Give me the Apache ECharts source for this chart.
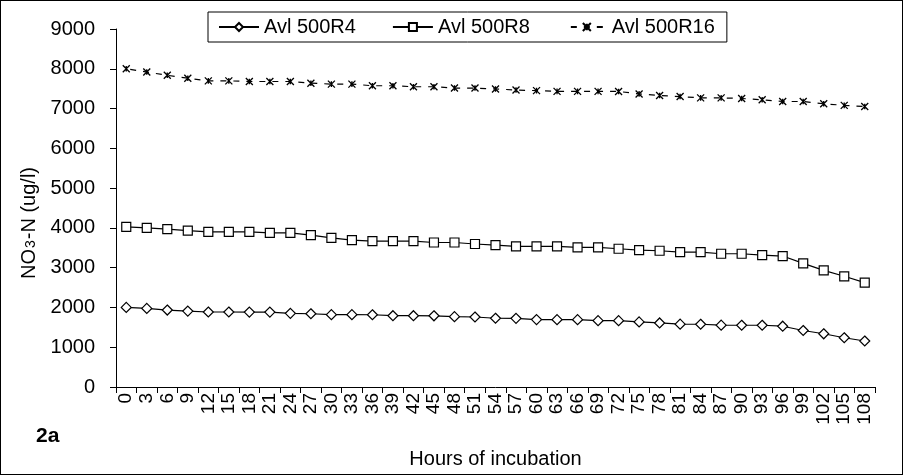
<!DOCTYPE html>
<html>
<head>
<meta charset="utf-8">
<script src="https://cdn.jsdelivr.net/npm/echarts@6/dist/echarts.min.js"></script>
<style>
html,body{margin:0;padding:0;background:#fff;}
#c{width:903px;height:475px;box-sizing:border-box;border:1px solid #000;}
</style>
</head>
<body>
<div id="c"></div>
<script>
const hours = ['0','3','6','9','12','15','18','21','24','27','30','33','36','39','42','45','48','51','54','57','60','63','66','69','72','75','78','81','84','87','90','93','96','99','102','105','108'];
const r4 = [2000,1975,1935,1908,1885,1885,1883,1883,1852,1842,1818,1818,1816,1792,1792,1790,1768,1760,1728,1727,1694,1692,1692,1668,1667,1636,1610,1580,1578,1554,1553,1553,1528,1420,1338,1238,1156];
const r8 = [4025,4000,3967,3933,3900,3900,3900,3875,3875,3817,3750,3692,3667,3667,3667,3633,3633,3595,3567,3535,3533,3533,3508,3508,3475,3442,3425,3392,3392,3350,3350,3317,3292,3108,2933,2783,2625];
const r16 = [8000,7918,7836,7762,7696,7696,7680,7680,7680,7638,7615,7615,7573,7573,7548,7548,7516,7516,7491,7467,7450,7432,7432,7432,7430,7368,7327,7302,7269,7269,7253,7220,7178,7178,7121,7080,7050];
const yTicks = [0,1000,2000,3000,4000,5000,6000,7000,8000,9000];
const seriesNames = ['Avl 500R4','Avl 500R8','Avl 500R16'];

const font = 'Liberation Sans, Arial, sans-serif';
const xSym = 'path://M0,0L10,10M10,0L0,10M5,1L5,9';
const chart = echarts.init(document.getElementById('c'));
chart.setOption({
  animation:false,
  backgroundColor:'#fff',
  textStyle:{fontFamily:font,color:'#000'},
  legend:{
    left:207, top:11,
    padding:[5,12,5,10],
    borderColor:'#000', borderWidth:1,
    itemGap:36, itemWidth:40, itemHeight:10,
    textStyle:{fontSize:20,color:'#000',fontFamily:font,lineHeight:20},
    data:seriesNames
  },
  grid:{left:115,right:27,top:28,bottom:86,containLabel:false},
  xAxis:{
    type:'category', data:hours, boundaryGap:true,
    name:'Hours of incubation', nameLocation:'middle', nameGap:62,
    nameTextStyle:{fontSize:20,color:'#000',fontFamily:font},
    axisLine:{lineStyle:{color:'#000',width:1}},
    axisTick:{show:true,length:6,lineStyle:{color:'#000'}},
    axisLabel:{rotate:90,fontSize:19,color:'#000',fontFamily:font,margin:6,interval:0},
    splitLine:{show:false}
  },
  yAxis:{
    type:'value', min:yTicks[0], max:yTicks[yTicks.length-1], interval:1000,
    axisLine:{show:true,lineStyle:{color:'#000',width:1}},
    axisTick:{show:true,length:6,lineStyle:{color:'#000'}},
    axisLabel:{fontSize:20,color:'#000',fontFamily:font,margin:21,formatter:function(v){return String(v);}},
    splitLine:{show:false}
  },
  graphic:[
    {type:'text',left:35,top:425,style:{text:'2a',font:'bold 21px Liberation Sans, Arial, sans-serif',fill:'#000'}},
    {type:'text',x:28,y:222,rotation:Math.PI/2,
     style:{text:'{a|NO}{b|3}{a|-N (ug/l)}',align:'center',verticalAlign:'middle',
       rich:{a:{fontSize:20,fill:'#000',fontFamily:font},b:{fontSize:14,fill:'#000',fontFamily:font,padding:[5,1,0,1]}}}}
  ],
  series:[
    {name:seriesNames[0],type:'line',data:r4,symbol:'diamond',symbolSize:10,
     lineStyle:{color:'#000',width:1.2},itemStyle:{color:'#fff',borderColor:'#000',borderWidth:1.2}},
    {name:seriesNames[1],type:'line',data:r8,symbol:'rect',symbolSize:9,
     lineStyle:{color:'#000',width:1.2},itemStyle:{color:'#fff',borderColor:'#000',borderWidth:1.2}},
    {name:seriesNames[2],type:'line',data:r16,symbol:xSym,symbolSize:7,
     lineStyle:{color:'#000',width:1.2,type:[6,7],dashOffset:-4},itemStyle:{color:'#000',borderColor:'#000',borderWidth:1.3}}
  ]
});
</script>
</body>
</html>
